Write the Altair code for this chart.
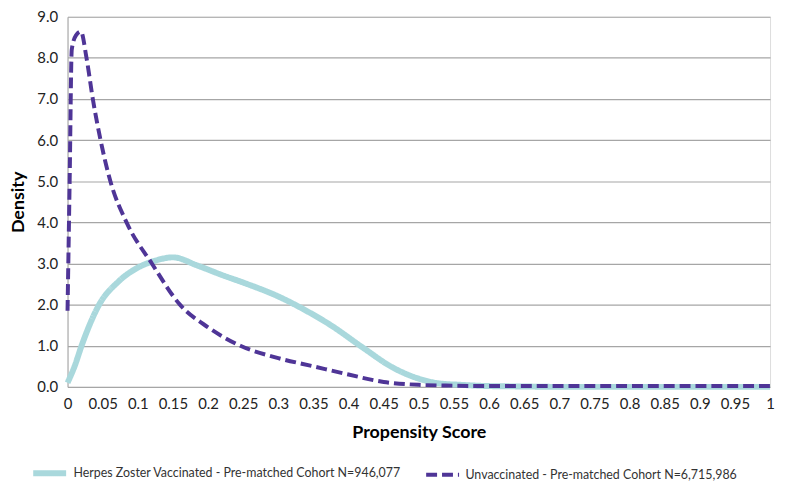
import altair as alt
import pandas as pd

vac_label = "Herpes Zoster Vaccinated - Pre-matched Cohort N=946,077"
unvac_label = "Unvaccinated - Pre-matched Cohort N=6,715,986"

vac_x = [0, 0.01, 0.021, 0.045, 0.073, 0.1, 0.125, 0.15, 0.185, 0.22, 0.256, 0.3,
         0.34, 0.372, 0.42, 0.462, 0.5, 0.527, 0.56, 0.6, 0.65, 0.7, 0.8, 0.9, 1.0]
vac_y = [0.1, 0.5, 1.05, 2.0, 2.57, 2.9, 3.07, 3.15, 2.95, 2.72, 2.5, 2.2,
         1.85, 1.53, 0.96, 0.48, 0.2, 0.09, 0.05, 0.02, 0.01, 0.0, 0.0, 0.0, 0.0]

unvac_x = [0.0, 0.003, 0.006, 0.012, 0.019, 0.027, 0.036, 0.047, 0.061, 0.084, 0.12,
           0.16, 0.2, 0.246, 0.3, 0.35, 0.4, 0.45, 0.5, 0.55, 0.6, 0.7, 0.8, 0.9, 1.0]
unvac_y = [1.85, 5.0, 8.2, 8.55, 8.64, 8.0, 7.0, 6.0, 5.0, 4.0, 3.0,
           2.0, 1.45, 1.0, 0.7, 0.5, 0.3, 0.12, 0.05, 0.03, 0.02, 0.02, 0.02, 0.02, 0.02]

x_ticks = [round(i * 0.05, 2) for i in range(21)]
y_ticks = [float(i) for i in range(10)]

df = pd.concat([
    pd.DataFrame({"x": vac_x, "y": vac_y, "series": vac_label, "order": range(len(vac_x))}),
    pd.DataFrame({"x": unvac_x, "y": unvac_y, "series": unvac_label, "order": range(len(unvac_x))}),
])

FONT = "Lato"
legend_kw = dict(title=None, orient="none", direction="horizontal",
                 legendX=-38, legendY=440,
                 labelFont=FONT, labelFontSize=12.5, labelOffset=4,
                 labelColor="#333", labelLimit=400, columnPadding=16,
                 symbolType="stroke", symbolSize=1100, symbolStrokeWidth=4)

chart = alt.Chart(df).mark_line(interpolate="monotone").encode(
    x=alt.X("x:Q", title="Propensity Score",
            scale=alt.Scale(domain=[0, 1], nice=False, zero=False),
            axis=alt.Axis(values=x_ticks, format="~g", grid=False, domain=False, ticks=False,
                          labelFontSize=15, labelColor="#222", labelPadding=10, labelFont=FONT,
                          titleFontSize=18, titleFont=FONT, titleFontWeight="bold",
                          titleColor="#000", titlePadding=12, labelFlush=False)),
    y=alt.Y("y:Q", title="Density",
            scale=alt.Scale(domain=[0, 9], nice=False),
            axis=alt.Axis(values=y_ticks, format=".1f", grid=True, gridColor="#a6a6a6",
                          gridWidth=1.2, domain=True, domainColor="#a6a6a6", ticks=False,
                          labelFontSize=15, labelColor="#222", labelPadding=10, labelFont=FONT,
                          titleFontSize=18, titleFont=FONT, titleFontWeight="bold",
                          titleColor="#000", titlePadding=9)),
    color=alt.Color("series:N",
                    scale=alt.Scale(domain=[vac_label, unvac_label], range=["#a9d8dc", "#4f3597"]),
                    legend=alt.Legend(**legend_kw)),
    strokeDash=alt.StrokeDash("series:N",
                              scale=alt.Scale(domain=[vac_label, unvac_label], range=[[1, 0], [11, 5]]),
                              legend=alt.Legend(**legend_kw)),
    strokeWidth=alt.StrokeWidth("series:N",
                                scale=alt.Scale(domain=[vac_label, unvac_label], range=[6, 4]),
                                legend=None),
    order="order:Q",
).properties(
    width=708, height=373,
    autosize=alt.AutoSizeParams(type="none"),
    padding={"left": 60, "top": 7, "right": 8, "bottom": 95},
).configure_view(stroke=None).configure(background="white")

chart.save("out.html", embed_options={"renderer": "svg", "actions": False})
